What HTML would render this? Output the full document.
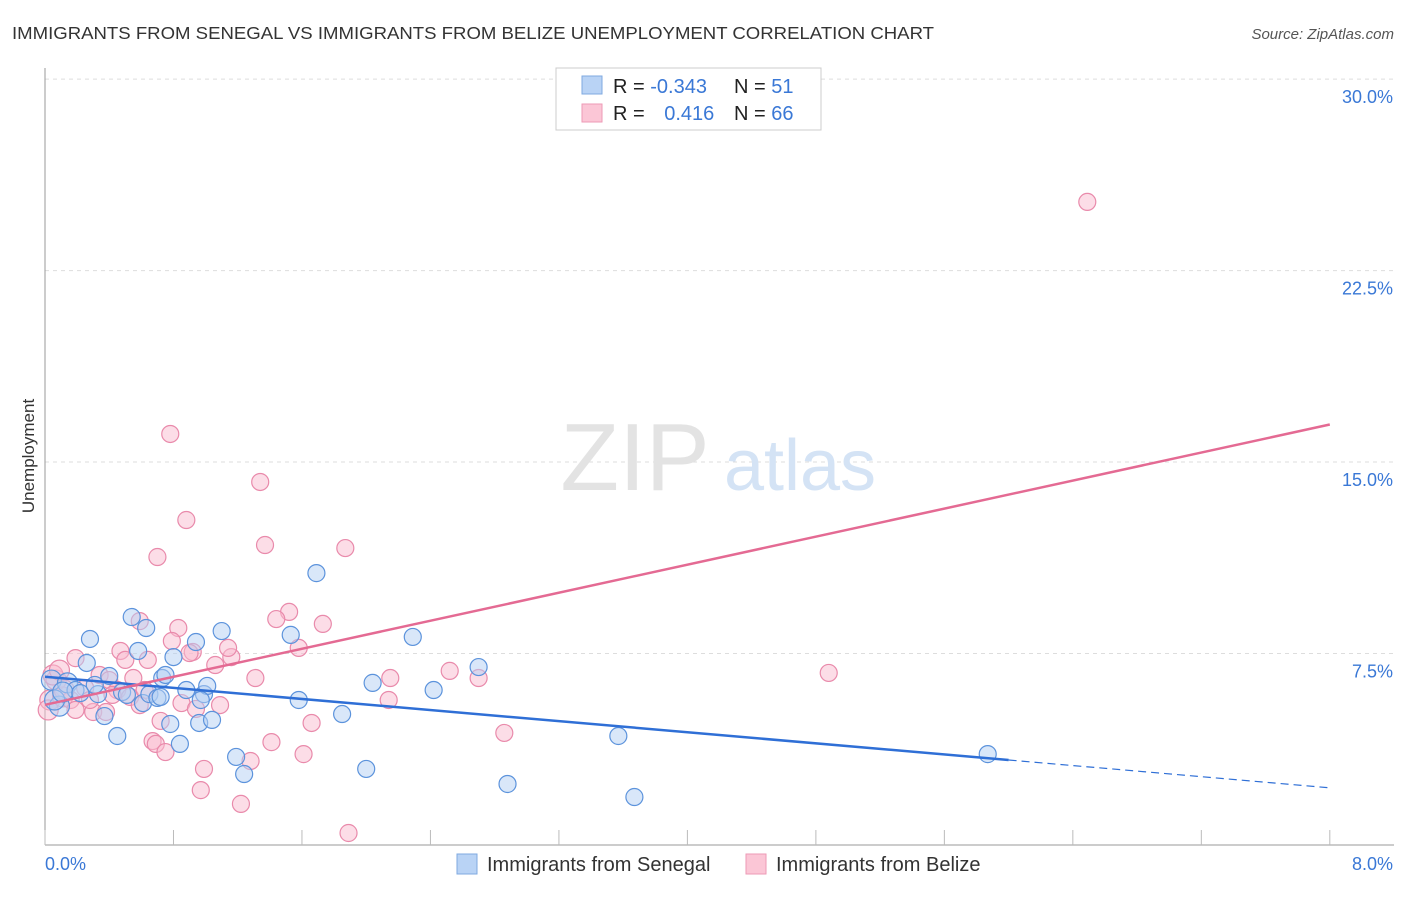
<!DOCTYPE html>
<html><head><meta charset="utf-8"><style>
body{margin:0;background:#fff;font-family:"Liberation Sans",sans-serif}
svg text{font-family:"Liberation Sans",sans-serif}
</style></head><body>
<svg width="1406" height="892">
<text x="12" y="39" font-size="17.5" fill="#333" textLength="922" lengthAdjust="spacingAndGlyphs">IMMIGRANTS FROM SENEGAL VS IMMIGRANTS FROM BELIZE UNEMPLOYMENT CORRELATION CHART</text>
<text x="1394" y="39" font-size="15" fill="#555" font-style="italic" text-anchor="end">Source: ZipAtlas.com</text>
<g id="grid"></g>
<text x="635" y="490" font-size="96" fill="#e3e3e3" font-family="Liberation Serif" text-anchor="middle">ZIP</text>
<text x="800" y="490" font-size="72" fill="#d4e3f5" text-anchor="middle">atlas</text>
<text transform="translate(34,456) rotate(-90)" font-size="17" fill="#333" text-anchor="middle">Unemployment</text>
<g id="pts"></g>
<g id="lines"></g>
<g>
<rect x="556" y="68" width="265" height="62" fill="#fff" stroke="#ccc"/>
<rect x="582" y="76" width="20" height="18" fill="#b9d3f5" stroke="#7fa9e0"/>
<rect x="582" y="104" width="20" height="18" fill="#fbc6d6" stroke="#ee9ab6"/>
<text x="613" y="93" font-size="20" fill="#222">R = <tspan fill="#3a78d6">-0.343</tspan></text>
<text x="734" y="93" font-size="20" fill="#222">N = <tspan fill="#3a78d6"> 51</tspan></text>
<text x="613" y="120" font-size="20" fill="#222">R = <tspan fill="#3a78d6" dx="14">0.416</tspan></text>
<text x="734" y="120" font-size="20" fill="#222">N = <tspan fill="#3a78d6">66</tspan></text>
</g>
<g>
<rect x="457" y="854" width="20" height="20" fill="#b9d3f5" stroke="#7fa9e0"/>
<text x="487" y="871" font-size="20" fill="#333">Immigrants from Senegal</text>
<rect x="746" y="854" width="20" height="20" fill="#fbc6d6" stroke="#ee9ab6"/>
<text x="776" y="871" font-size="20" fill="#333">Immigrants from Belize</text>
</g>
</svg>
<script>
const yTicks=[7.5,15,22.5,30];
const yTickLabels=["7.5%","15.0%","22.5%","30.0%"];
const xTickLabels=["0.0%","8.0%"];
const senegalX=[0.04,0.09,0.14,0.19,0.26,0.28,0.33,0.37,0.40,0.45,0.48,0.54,0.58,0.63,0.61,0.65,0.70,0.73,0.75,0.78,0.80,0.84,0.88,0.94,0.96,0.99,1.01,1.04,1.10,1.19,1.24,1.53,1.58,1.69,1.85,2.00,2.04,2.29,2.42,2.70,2.88,3.57,3.67,5.87,0.06,0.11,0.22,0.31,0.51,0.97,0.72];
const senegalY=[6.46,5.44,6.35,6.07,7.13,8.07,5.91,5.05,6.62,4.27,5.99,8.93,7.60,8.50,5.56,5.91,5.76,6.54,6.66,4.74,7.36,3.96,6.07,7.95,4.78,5.91,6.23,4.90,8.38,3.45,2.78,8.23,5.68,10.65,5.13,2.98,6.35,8.15,6.07,6.97,2.39,4.27,1.88,3.56,5.68,5.99,5.95,6.27,5.88,5.68,5.80];
const belizeX=[6.49,0.78,1.34,0.88,1.37,1.87,0.70,1.52,1.44,1.73,0.83,0.59,0.79,0.92,0.47,0.50,0.64,1.16,1.06,1.58,0.90,0.19,0.34,0.40,0.55,1.31,2.15,2.52,2.70,4.88,2.14,1.09,0.85,0.94,0.30,0.38,0.72,1.66,2.86,0.67,0.69,0.75,1.41,1.61,1.28,0.99,0.97,1.22,1.89,0.07,0.03,0.11,0.16,0.25,0.45,0.53,0.62,1.14,0.12,0.02,0.05,0.28,0.42,0.19,0.09,0.59];
const belizeY=[25.19,16.10,14.22,12.73,11.75,11.63,11.28,9.13,8.85,8.66,8.50,8.77,7.99,7.56,7.60,7.25,7.25,7.36,7.05,7.72,7.52,7.32,6.66,6.46,6.54,6.54,6.54,6.82,6.54,6.74,5.68,5.48,5.56,5.33,5.21,5.21,4.86,4.78,4.39,4.07,3.96,3.64,4.03,3.56,3.29,2.98,2.15,1.61,0.47,6.46,5.68,5.80,5.68,6.15,6.07,5.80,6.07,7.72,6.07,5.29,6.66,5.68,5.88,5.29,6.85,5.48];
const senegalTrend=[[0,6.59],[6,3.33],[8,2.24]];
const belizeTrend=[[0,5.49],[8,16.47]];
const X=v=>45+v*160.6, Y=v=>845-v*25.53;
const NS="http://www.w3.org/2000/svg";
function mk(t,a,p){const e=document.createElementNS(NS,t);for(const k in a)e.setAttribute(k,a[k]);p.appendChild(e);return e;}
const svg=document.querySelector('svg');
const grid=document.getElementById('grid');
yTicks.forEach((t,i)=>{
 const l=mk('line',{x1:45,x2:1394,y1:Y(t),y2:Y(t),stroke:'#ddd','stroke-dasharray':'4,4'},grid);
 
 
 const tx=mk('text',{x:1393,y:Y(t)+24,'font-size':18,fill:'#3a78d6','text-anchor':'end'},grid);
 tx.textContent=yTickLabels[i];
 
 
});
const ax=mk('line',{x1:45,x2:45,y1:68,y2:845,stroke:'#999'},grid);


const bx=mk('line',{x1:45,x2:1394,y1:845,y2:845,stroke:'#999'},grid);


for(let i=0;i<=10;i++){const tk=mk('line',{x1:X(i*0.8),x2:X(i*0.8),y1:830,y2:845,stroke:'#bbb'},grid);
 
 }
[[0,'start',45],[8,'end',1393]].forEach((d,i)=>{const t=mk('text',{x:d[2],y:870,'font-size':18,fill:'#3a78d6','text-anchor':d[1]},grid);t.textContent=xTickLabels[i];
 
 });
const pts=document.getElementById('pts');
function dots(xs,ys,f,s,name){xs.forEach((x,i)=>{const c=mk('circle',{cx:X(x),cy:Y(ys[i]),r:(x<0.15?10:8.5),fill:f,'fill-opacity':0.5,stroke:s,'stroke-width':1.2},pts);
 
 });}
dots(belizeX,belizeY,'#f9bcd0','#e98aab','belize-point');
dots(senegalX,senegalY,'#b4cff3','#5c93dc','senegal-point');
const lg=document.getElementById('lines');
const s1=mk('line',{x1:X(senegalTrend[0][0]),y1:Y(senegalTrend[0][1]),x2:X(senegalTrend[1][0]),y2:Y(senegalTrend[1][1]),stroke:'#2f6fd6','stroke-width':2.5},lg);


const s2=mk('line',{x1:X(senegalTrend[1][0]),y1:Y(senegalTrend[1][1]),x2:X(senegalTrend[2][0]),y2:Y(senegalTrend[2][1]),stroke:'#2f6fd6','stroke-width':1.2,'stroke-dasharray':'8,5'},lg);


const p1=mk('line',{x1:X(belizeTrend[0][0]),y1:Y(belizeTrend[0][1]),x2:X(belizeTrend[1][0]),y2:Y(belizeTrend[1][1]),stroke:'#e46a93','stroke-width':2.5},lg);


</script>
</body></html>
